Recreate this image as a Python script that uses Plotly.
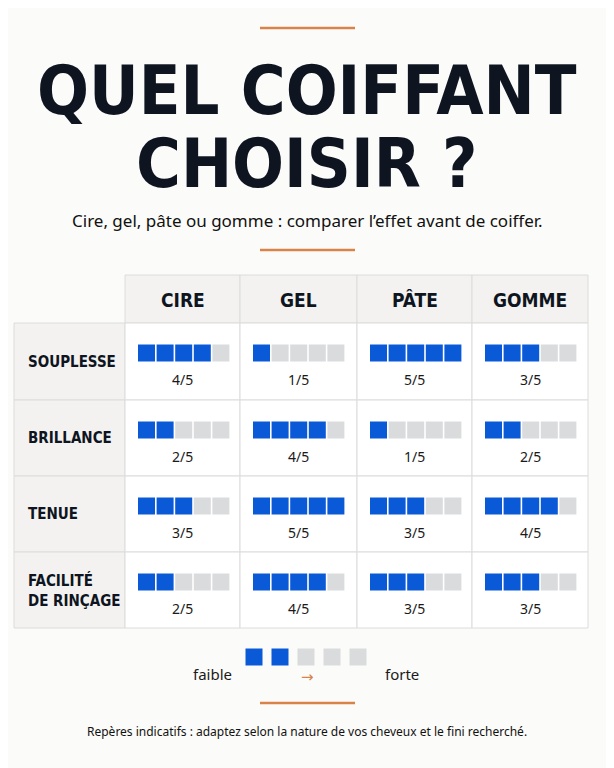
import plotly.graph_objects as go

# --- data ---------------------------------------------------
products = ["CIRE", "GEL", "PÂTE", "GOMME"]
criteria = ["SOUPLESSE", "BRILLANCE", "TENUE", "FACILITÉ<br>DE RINÇAGE"]
scores = [
    [4, 1, 5, 3],   # souplesse
    [2, 4, 1, 2],   # brillance
    [3, 5, 3, 4],   # tenue
    [2, 4, 3, 3],   # facilité de rinçage
]
max_score = 5
legend_filled = 2

BLUE = "#0a5ad8"
GREY = "#d9dbdc"
INK = "#0e1520"
ORANGE = "#d9824a"
LINE = "#dcdcdc"
COND = "DejaVu Sans Condensed"

# --- geometry (pixels) -------------------------------------
col_edges = [14, 125, 240, 357, 472, 588]
row_edges = [275, 323, 400, 476, 552, 628]
pitch = 18.6
sq = 17

fig = go.Figure()
shapes = []
annotations = []

# cell backgrounds
for ci in range(5):
    for ri in range(5):
        if ci == 0 and ri == 0:
            continue
        fill = "#f3f2f0" if (ci == 0 or ri == 0) else "#ffffff"
        shapes.append(dict(type="rect", x0=col_edges[ci], x1=col_edges[ci + 1],
                           y0=row_edges[ri], y1=row_edges[ri + 1],
                           fillcolor=fill, line=dict(color=LINE, width=1), layer="below"))

# header
for ci, p in enumerate(products):
    annotations.append(dict(x=(col_edges[ci + 1] + col_edges[ci + 2]) / 2, y=300, text=f"<b>{p}</b>",
                            font=dict(family=COND, size=19, color=INK)))
# row labels
for ri, c in enumerate(criteria):
    annotations.append(dict(x=26, y=(row_edges[ri + 1] + row_edges[ri + 2]) / 2, text=f"<b>{c}</b>",
                            xanchor="left", align="left",
                            font=dict(family=COND, size=15, color=INK)))

fx, fy, gx, gy = [], [], [], []
for ri, row in enumerate(scores):
    ytop = row_edges[ri + 1]
    for ci, s in enumerate(row):
        x0 = col_edges[ci + 1] + 21.5
        for k in range(max_score):
            (fx if k < s else gx).append(x0 + k * pitch)
            (fy if k < s else gy).append(ytop + 30)
        annotations.append(dict(x=(col_edges[ci + 1] + col_edges[ci + 2]) / 2, y=ytop + 56,
                                text=f"{s}/{max_score}",
                                font=dict(family="Noto Sans", size=14, color="#1a1a1a")))

# legend scale
for k in range(max_score):
    (fx if k < legend_filled else gx).append(254 + k * 26)
    (fy if k < legend_filled else gy).append(657)

fig.add_trace(go.Scatter(x=fx, y=fy, mode="markers", hoverinfo="skip",
                         marker=dict(symbol="square", size=sq, color=BLUE, line=dict(width=0))))
fig.add_trace(go.Scatter(x=gx, y=gy, mode="markers", hoverinfo="skip",
                         marker=dict(symbol="square", size=sq, color=GREY, line=dict(width=0))))

annotations += [
    dict(x=212, y=674, text="faible", font=dict(family="Noto Sans", size=15, color="#1a1a1a")),
    dict(x=402, y=674, text="forte", font=dict(family="Noto Sans", size=15, color="#1a1a1a")),
    dict(x=307, y=677, text="→", font=dict(family="DejaVu Sans", size=15, color=ORANGE)),
    dict(x=307, y=90, text="<b>QUEL COIFFANT</b>",
         font=dict(family=COND, size=68, color=INK)),
    dict(x=307, y=163, text="<b>CHOISIR ?</b>",
         font=dict(family=COND, size=68, color=INK)),
    dict(x=307, y=220, text="Cire, gel, pâte ou gomme : comparer l’effet avant de coiffer.",
         font=dict(family="Noto Sans", size=17, color="#111111")),
    dict(x=307, y=731, text="Repères indicatifs : adaptez selon la nature de vos cheveux et le fini recherché.",
         font=dict(family="Noto Sans", size=12, color="#111111")),
]
for a in annotations:
    a.update(xref="x", yref="y", showarrow=False)

for y in (28, 250, 703):
    shapes.append(dict(type="line", x0=260, x1=355, y0=y, y1=y, line=dict(color=ORANGE, width=2.5)))

# page body adds an 8px margin; shift axis ranges to compensate
fig.update_layout(
    width=614, height=768, margin=dict(l=0, r=0, t=0, b=0),
    paper_bgcolor="#fbfbf9", plot_bgcolor="#fbfbf9", showlegend=False,
    shapes=shapes, annotations=annotations,
    xaxis=dict(range=[8, 622], visible=False, fixedrange=True),
    yaxis=dict(range=[776, 8], visible=False, fixedrange=True),
)
fig.write_html("out.html", config={"displayModeBar": False})
